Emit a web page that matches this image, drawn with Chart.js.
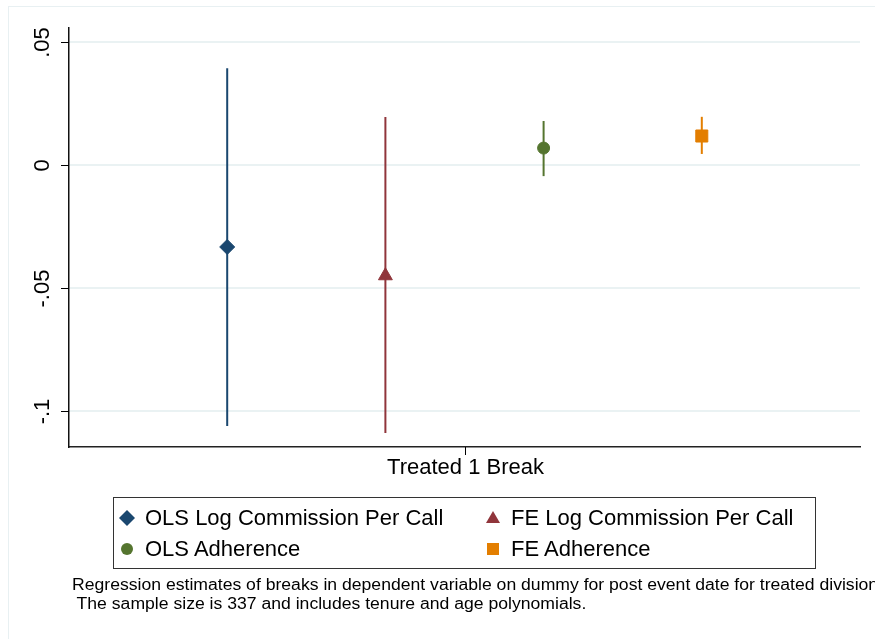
<!DOCTYPE html>
<html>
<head>
<meta charset="utf-8">
<script src="https://cdn.jsdelivr.net/npm/chart.js@4/dist/chart.umd.min.js"></script>
<style>
  html, body { margin: 0; padding: 0; background: #fff; }
  #wrap { position: relative; width: 875px; height: 639px; overflow: hidden; font-family: "Liberation Sans", Arial, sans-serif; }
  #frame { position: absolute; left: 8px; top: 6px; width: 900px; height: 700px; border-top: 1px solid #e8f0f2; border-left: 1px solid #e8f0f2; }
  canvas { position: absolute; left: 0; top: 0; }
  #legend { position: absolute; left: 113px; top: 497px; width: 701px; height: 70px; border: 1px solid #333; }
  .item { position: absolute; font-size: 22px; line-height: 26px; color: #000; white-space: nowrap; }
  .mk { position: absolute; }
  #note { position: absolute; left: 72px; top: 576px; font-size: 16px; line-height: 18.5px; color: #000; white-space: pre; font-family: "Liberation Sans Narrow", "Liberation Sans", Arial, sans-serif; transform-origin: 0 0; transform: scaleX(1.1); }
</style>
</head>
<body>
<div id="wrap">
  <div id="frame"></div>
  <canvas id="c" width="875" height="639"></canvas>
  <div id="legend"></div>
  <div id="note"></div>
</div>
<script>
// Point estimates with confidence intervals, one marker per specification
const seriesNames = ['OLS Log Commission Per Call', 'FE Log Commission Per Call', 'OLS Adherence', 'FE Adherence'];
const positions = [1, 2, 3, 4];
const estimates = [-0.0333, -0.045, 0.0069, 0.0118];
const ciLow = [-0.1061, -0.1089, -0.0045, 0.0045];
const ciHigh = [0.0393, 0.0195, 0.0179, 0.0196];
const colors = ['#1a476f', '#90353b', '#55752f', '#e37e00'];
const markers = ['rectRot', 'triangle', 'circle', 'rect'];
const markerRadius = [7.5, 8, 6, 8.5];

const yTickValues = [-0.1, -0.05, 0, 0.05];
const yTickLabels = ['-.1', '-.05', '0', '.05'];
const xTickValue = 2.5;
const xTickLabel = 'Treated 1 Break';
const noteLines = ['Regression estimates of breaks in dependent variable on dummy for post event date for treated divisions.',
                   ' The sample size is 337 and includes tenure and age polynomials.'];

const datasets = [];
seriesNames.forEach((name, i) => {
  // confidence interval as a vertical segment
  datasets.push({
    type: 'line',
    label: name + ' CI',
    data: [{ x: positions[i], y: ciLow[i] }, { x: positions[i], y: ciHigh[i] }],
    borderColor: colors[i],
    borderWidth: 2,
    pointRadius: 0,
    showLine: true,
    order: 2
  });
});
seriesNames.forEach((name, i) => {
  datasets.push({
    type: 'scatter',
    label: name,
    data: [{ x: positions[i], y: estimates[i] }],
    backgroundColor: colors[i],
    borderColor: colors[i],
    borderWidth: 1,
    pointStyle: markers[i],
    pointRadius: markerRadius[i],
    order: 1
  });
});

const FONT = '22px "Liberation Sans", Arial, sans-serif';

const axisDecor = {
  id: 'axisDecor',
  afterDraw(chart) {
    const ctx = chart.ctx;
    const y = chart.scales.y, x = chart.scales.x;
    const area = chart.chartArea;
    ctx.save();
    ctx.strokeStyle = '#000';
    ctx.lineWidth = 1;
    ctx.fillStyle = '#000';
    ctx.font = FONT;
    yTickValues.forEach((v, i) => {
      const py = Math.round(y.getPixelForValue(v)) + 0.5;
      ctx.beginPath();
      ctx.moveTo(area.left - 8, py);
      ctx.lineTo(area.left, py);
      ctx.stroke();
      ctx.save();
      ctx.translate(area.left - 26, py);
      ctx.rotate(-Math.PI / 2);
      ctx.textAlign = 'center';
      ctx.textBaseline = 'middle';
      ctx.fillText(yTickLabels[i], 0, 0);
      ctx.restore();
    });
    const px = Math.round(x.getPixelForValue(xTickValue)) + 0.5;
    ctx.beginPath();
    ctx.moveTo(px, area.bottom);
    ctx.lineTo(px, area.bottom + 8);
    ctx.stroke();
    ctx.textAlign = 'center';
    ctx.textBaseline = 'middle';
    ctx.fillText(xTickLabel, px, area.bottom + 21);
    ctx.restore();
  }
};

const chart = new Chart(document.getElementById('c'), {
  data: { datasets },
  options: {
    responsive: false,
    animation: false,
    devicePixelRatio: 1,
    layout: { padding: { left: 69, top: 28, right: 15, bottom: 192 } },
    plugins: { legend: { display: false }, tooltip: { enabled: false } },
    scales: {
      x: {
        type: 'linear', min: 0, max: 5,
        ticks: { display: false },
        grid: { display: false, drawTicks: false },
        border: { display: true, color: '#222', width: 1.5 }
      },
      y: {
        type: 'linear', min: -0.1146, max: 0.0557,
        afterBuildTicks: s => { s.ticks = yTickValues.map(v => ({ value: v })); },
        ticks: { display: false },
        grid: { color: '#eaf2f3', lineWidth: 2, drawTicks: false },
        border: { display: true, color: '#111', width: 1.5 }
      }
    }
  },
  plugins: [axisDecor]
});

// Legend box in two columns
const legend = document.getElementById('legend');
const cols = [[0, 2], [1, 3]];
const colText = [31, 397];
const colMark = [13, 379];
const rowY = [20, 51];
function markerSvg(style, color) {
  const s = 18, c = 9;
  let shape = '';
  if (style === 'rectRot') shape = `<polygon points="${c},1 ${s-1},${c} ${c},${s-1} 1,${c}" fill="${color}"/>`;
  if (style === 'triangle') shape = `<polygon points="${c},2 ${c+7},${c+5} ${c-7},${c+5}" fill="${color}"/>`;
  if (style === 'circle') shape = `<circle cx="${c}" cy="${c}" r="6" fill="${color}"/>`;
  if (style === 'rect') shape = `<rect x="${c-6}" y="${c-6}" width="12" height="12" fill="${color}"/>`;
  return `<svg width="${s}" height="${s}" viewBox="0 0 ${s} ${s}">${shape}</svg>`;
}
cols.forEach((list, ci) => {
  list.forEach((idx, ri) => {
    const m = document.createElement('div');
    m.className = 'mk';
    m.style.left = (colMark[ci] - 9) + 'px';
    m.style.top = (rowY[ri] - 9) + 'px';
    m.innerHTML = markerSvg(markers[idx], colors[idx]);
    legend.appendChild(m);
    const t = document.createElement('div');
    t.className = 'item';
    t.style.left = colText[ci] + 'px';
    t.style.top = (rowY[ri] - 13) + 'px';
    t.textContent = seriesNames[idx];
    legend.appendChild(t);
  });
});

const note = document.getElementById('note');
note.textContent = noteLines.join('\n');
</script>
</body>
</html>
